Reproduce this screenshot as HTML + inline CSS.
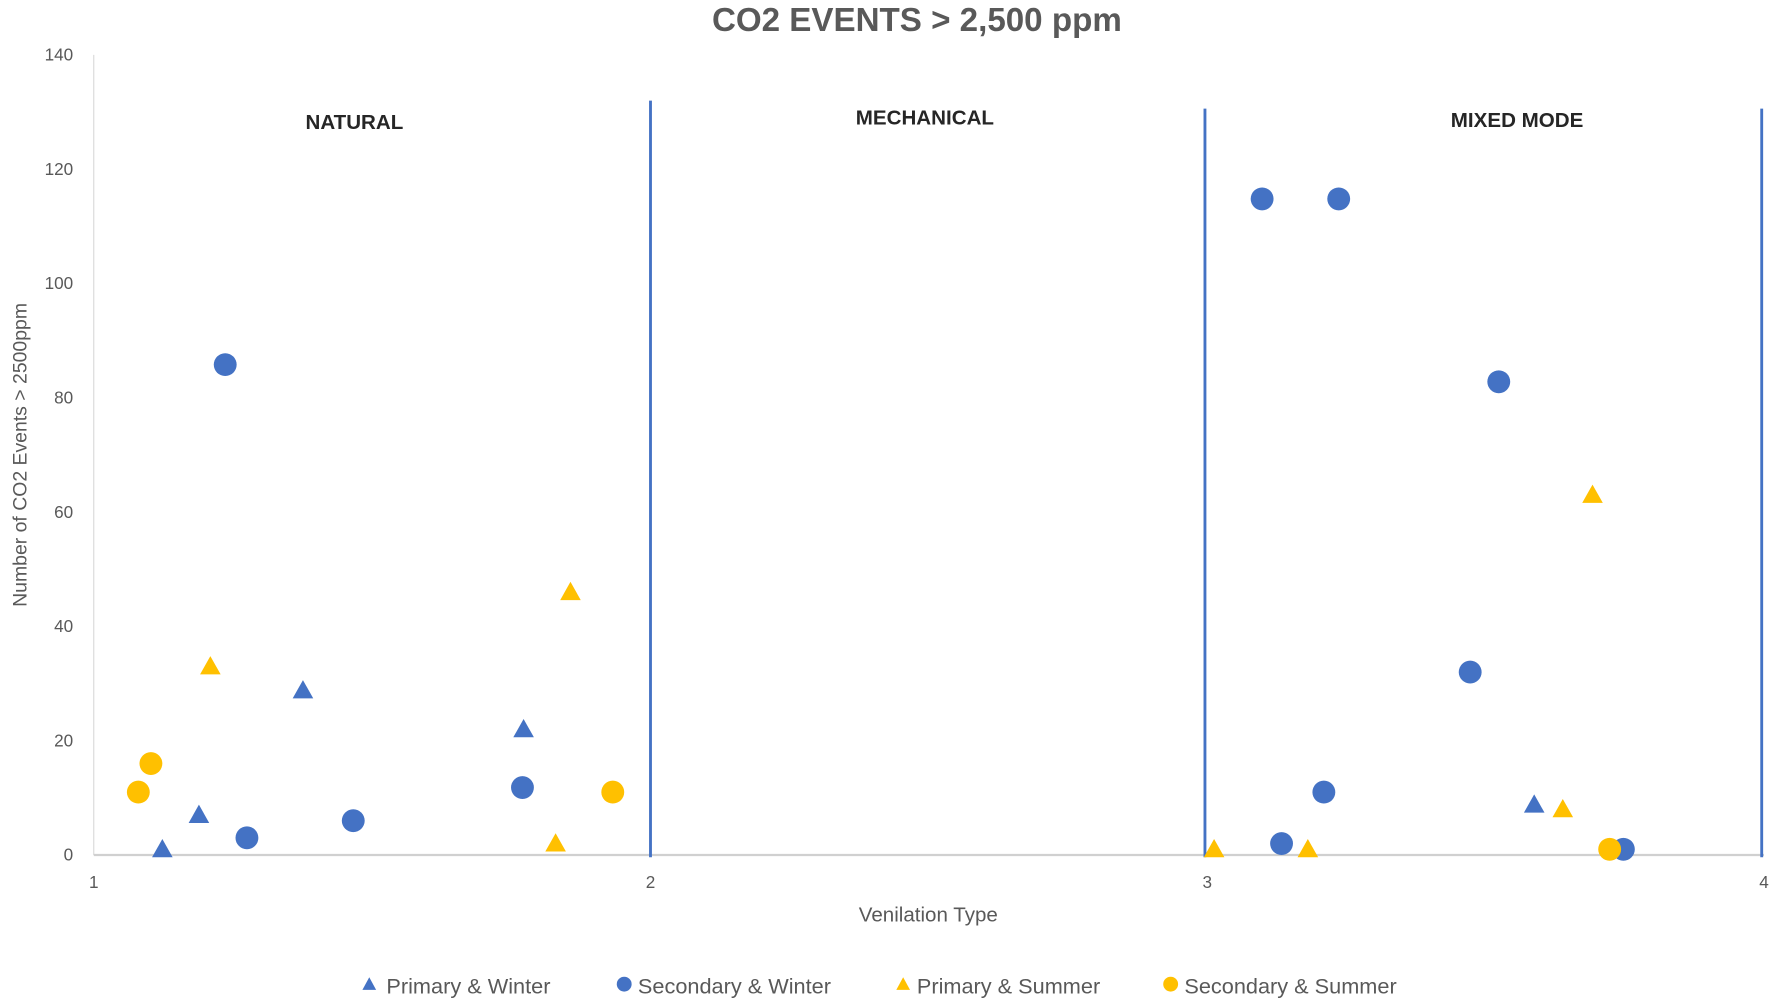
<!DOCTYPE html>
<html><head><meta charset="utf-8"><style>html,body{margin:0;padding:0;background:#fff}svg{display:block}</style></head>
<body>
<svg width="1772" height="1007" viewBox="0 0 1550 881" preserveAspectRatio="none" xmlns="http://www.w3.org/2000/svg" font-family="Liberation Sans, sans-serif">
<defs>
<symbol id="tb" viewBox="-10 -10 20 20"><polygon points="0,-9 9,7 -9,7" fill="#4472C4"/></symbol>
</defs>
<text x="802" y="27" text-anchor="middle" font-size="29" font-weight="bold" fill="#595959">CO2 EVENTS &gt; 2,500 ppm</text>
<line x1="82" y1="48" x2="82" y2="748" stroke="#d9d9d9" stroke-width="1"/>
<line x1="82" y1="748" x2="1543" y2="748" stroke="#d0d0d0" stroke-width="2"/>
<g font-size="15" fill="#595959" text-anchor="end">
<text x="64" y="53">140</text><text x="64" y="153">120</text><text x="64" y="253">100</text><text x="64" y="353">80</text><text x="64" y="453">60</text><text x="64" y="553">40</text><text x="64" y="653">20</text><text x="64" y="753">0</text>
</g>
<g font-size="15" fill="#595959" text-anchor="middle">
<text x="82" y="777">1</text><text x="569" y="777">2</text><text x="1056" y="777">3</text><text x="1543" y="777">4</text>
</g>
<text x="812" y="806" text-anchor="middle" font-size="18" fill="#595959">Venilation Type</text>
<text transform="translate(23,398) rotate(-90)" text-anchor="middle" font-size="17" fill="#595959">Number of CO2 Events &gt; 2500ppm</text>
<g stroke="#4472C4" stroke-width="2.5">
<line x1="569" y1="88" x2="569" y2="750"/>
<line x1="1054" y1="95" x2="1054" y2="750"/>
<line x1="1541" y1="95" x2="1541" y2="750"/>
</g>
<g font-size="18" font-weight="bold" fill="#262626" text-anchor="middle">
<text x="310" y="113">NATURAL</text><text x="809" y="109">MECHANICAL</text><text x="1327" y="111">MIXED MODE</text>
</g>
<g fill="#4472C4">
<circle cx="197" cy="319" r="10"/><circle cx="216" cy="733" r="10"/><circle cx="309" cy="718" r="10"/><circle cx="457" cy="689" r="10"/><circle cx="1104" cy="174" r="10"/><circle cx="1171" cy="174" r="10"/><circle cx="1311" cy="334" r="10"/><circle cx="1286" cy="588" r="10"/><circle cx="1158" cy="693" r="10"/><circle cx="1121" cy="738" r="10"/><circle cx="1420" cy="743" r="10"/>
<polygon points="142,734 151,750 133,750"/><polygon points="174,704 183,720 165,720"/><polygon points="265,595 274,611 256,611"/><polygon points="458,629 467,645 449,645"/><polygon points="1342,695 1351,711 1333,711"/>
</g>
<g fill="#FFC000">
<circle cx="121" cy="693" r="10"/><circle cx="132" cy="668" r="10"/><circle cx="536" cy="693" r="10"/><circle cx="1408" cy="743" r="10"/>
<polygon points="184,574 193,590 175,590"/><polygon points="499,509 508,525 490,525"/><polygon points="486,729 495,745 477,745"/><polygon points="1062,734 1071,750 1053,750"/><polygon points="1144,734 1153,750 1135,750"/><polygon points="1367,699 1376,715 1358,715"/><polygon points="1393,424 1402,440 1384,440"/>
</g>
<g font-size="19" fill="#595959">
<polygon points="323,855 329,866 317,866" fill="#4472C4"/><text x="338" y="869">Primary &amp; Winter</text>
<circle cx="546" cy="861" r="6.5" fill="#4472C4"/><text x="558" y="869">Secondary &amp; Winter</text>
<polygon points="790,855 796,866 784,866" fill="#FFC000"/><text x="802" y="869">Primary &amp; Summer</text>
<circle cx="1024" cy="861" r="6.5" fill="#FFC000"/><text x="1036" y="869">Secondary &amp; Summer</text>
</g>
</svg>
</body></html>
